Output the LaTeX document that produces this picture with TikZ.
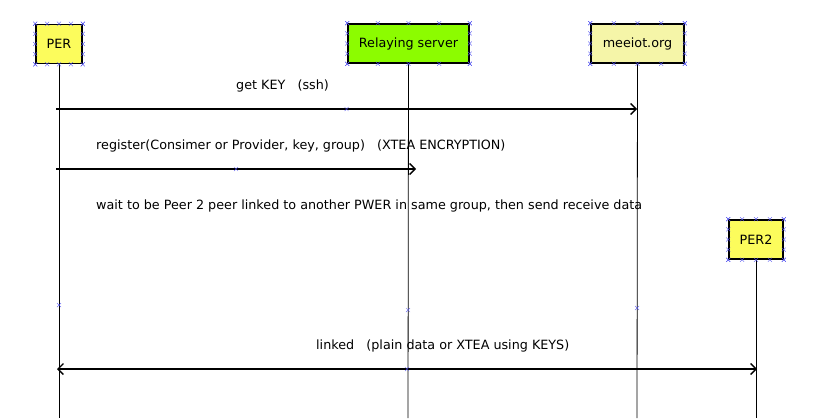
\documentclass[tikz,border=0pt]{standalone}
\usepackage{fontspec}
\setmainfont{DejaVu Sans}
\usetikzlibrary{arrows.meta,calc}
\definecolor{peryel}{HTML}{FCFC5C}
\definecolor{relgreen}{HTML}{8CFC00}
\definecolor{meepale}{HTML}{F5F5A8}
\definecolor{xblue}{HTML}{5050F0}
\begin{document}
\begin{tikzpicture}[x=1pt,y=-1pt,
  font=\fontsize{12.75}{14}\selectfont,
  actor/.style={draw,line width=1.6pt,minimum height=39pt,inner sep=0pt},
  life/.style={line width=0.8pt},
  msg/.style={line width=1.6pt},
  tipr/.style={-{Straight Barb[length=5.5pt,width=11pt,line width=1.4pt]}},
  tipb/.style={{Straight Barb[length=5.5pt,width=11pt,line width=1.4pt]}-{Straight Barb[length=5.5pt,width=11pt,line width=1.4pt]}},
  lbl/.style={inner sep=0pt,anchor=west},
  xm/.style={draw=xblue,line width=0.35pt},
  xmk/.pic={\draw[xm] (-2,-2)--(2,2) (-2,2)--(2,-2);}]
\useasboundingbox (0,0) rectangle (829,418);
\newcommand\boxmarks[1]{%
  \foreach \t in {0,0.25,0.5,0.75,1}{%
    \pic at ($(#1.north west)!\t!(#1.north east)$) {xmk};
    \pic at ($(#1.south west)!\t!(#1.south east)$) {xmk};
    \pic at ($(#1.north west)!\t!(#1.south west)$) {xmk};
    \pic at ($(#1.north east)!\t!(#1.south east)$) {xmk};
  }}
% actors
\node[actor,fill=peryel,minimum width=46pt] (per) at (59,44) {PER};
\node[actor,fill=relgreen,minimum width=121pt] (rel) at (408.5,43.5) {Relaying server};
\node[actor,fill=meepale,minimum width=93pt] (mee) at (637.5,43.5) {meeiot.org};
\node[actor,fill=peryel,minimum width=54pt] (per2) at (756,239.5) {PER2};
% lifeline ends
\coordinate (perend) at (59,418);
\coordinate (relend) at (408,418);
\coordinate (meeend) at (637,418);
\coordinate (per2end) at (756,418);
\draw[life] (per.south) -- (perend);
\draw[life] (rel.south) -- (relend);
\draw[life] (mee.south) -- (meeend);
\draw[life] (per2.south) -- (per2end);
% messages
\coordinate (m1a) at (56,109);
\coordinate (m1b) at (637,109);
\draw[msg,tipr] (m1a) -- (m1b);
\node[lbl] (l1) at (236,85.5) {get KEY~~~(ssh)};
\coordinate (m2a) at (56,169);
\coordinate (m2b) at (416,169);
\draw[msg,tipr] (m2a) -- (m2b);
\node[lbl] (l2) at (96,145.5) {register(Consimer or Provider, key, group)~~~(XTEA ENCRYPTION)};
\node[lbl] (l3) at (96,205.5) {wait to be Peer 2 peer linked to another PWER in same group, then send receive data};
\coordinate (m3a) at (57,369);
\coordinate (m3b) at (757,369);
\draw[msg,tipb] (m3a) -- (m3b);
\node[lbl] (l4) at (316,345.5) {linked~~~(plain data or XTEA using KEYS)};
% debug-like markers
\boxmarks{per}
\boxmarks{rel}
\boxmarks{mee}
\boxmarks{per2}
\pic at ($(m1a)!0.5!(m1b)$) {xmk};
\pic at ($(m2a)!0.5!(m2b)$) {xmk};
\pic at ($(m3a)!0.5!(m3b)$) {xmk};
\pic at (59,305) {xmk};
\pic at (408,310) {xmk};
\pic at (637,308) {xmk};
\end{tikzpicture}
\end{document}
